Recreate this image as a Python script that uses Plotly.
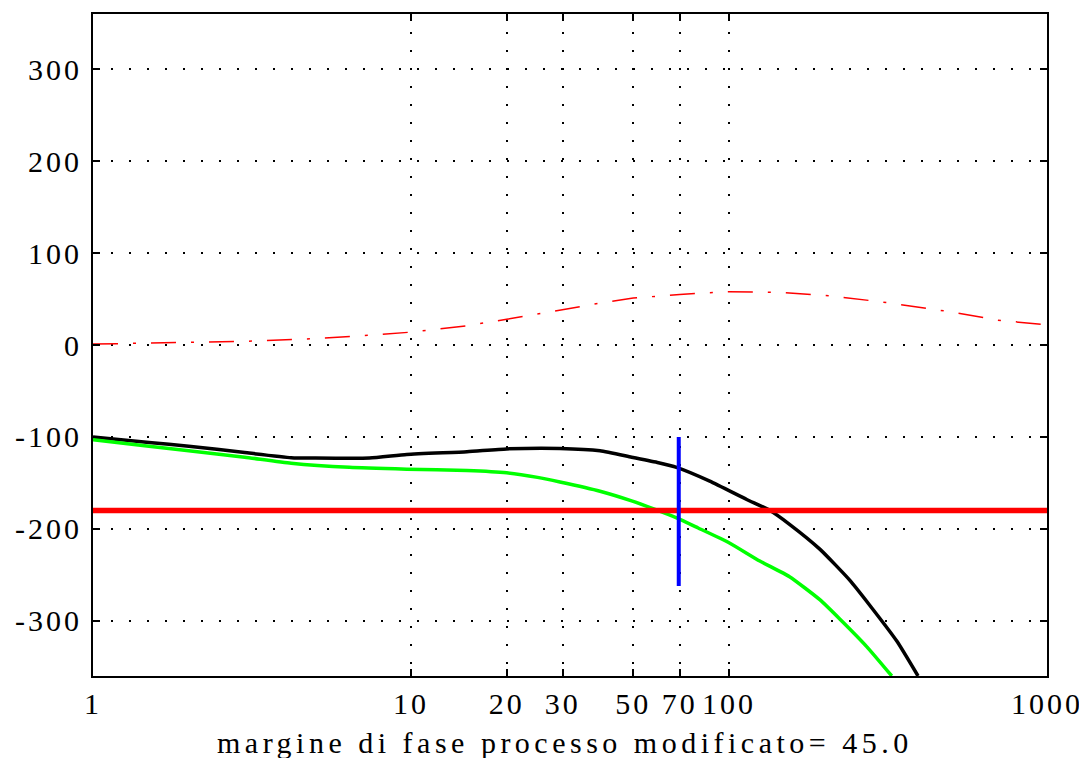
import plotly.graph_objects as go

# ---- data ----
freq_black = [1, 1.5, 2, 3, 4.2, 5, 7.4, 9.7, 15, 20, 29.4, 39.3, 49.4, 60, 68.4, 87, 113.7, 134.6, 155, 193, 240, 277, 337, 393]
phase_black = [-100, -106, -110, -117, -122.5, -123, -123, -119, -116, -113, -112.5, -115, -122, -128, -133, -148, -168, -180, -195, -222, -256, -283, -322, -360]

freq_green = [1, 1.5, 2, 3, 4.2, 6.4, 9.7, 15, 20, 25, 29.4, 39.3, 49.4, 57.7, 68.4, 80, 100, 125, 155, 193, 223, 271, 325]
phase_green = [-103, -110, -115, -122, -128.5, -133, -135, -136.5, -139, -144, -149, -159, -169.5, -178, -188, -199, -215, -235, -252, -277, -298, -328, -360]

freq_lead = [1, 2, 3, 5, 7, 10, 15, 20, 30, 40, 50, 70, 100, 150, 200, 300, 500, 700, 1000]
phase_lead = [1, 3, 4, 7, 10, 14, 21, 28, 39, 46, 51, 55, 58, 57, 54, 47, 36, 27, 22]

limit_x = [1, 1000]
limit_y = [-180, -180]

margin_x = [69.5, 69.5]
margin_y = [-100, -262]

x_tickvals = [1, 10, 20, 30, 50, 70, 100, 1000]
x_ticktext = ["1", "10", "20", "30", "50", "70", "100", "1000"]
y_tickvals = [-300, -200, -100, 0, 100, 200, 300]
y_ticktext = ["-300", "-200", "-100", "0", "100", "200", "300"]

title_text = "margine di fase processo modificato= 45.0"

SP = '<span style="letter-spacing:3px">{}</span>'
SPT = '<span style="letter-spacing:4.5px">{}</span>'

fig = go.Figure()
fig.add_trace(go.Scatter(x=freq_lead, y=phase_lead, mode="lines",
                         line=dict(color="#ff0000", width=1.5, dash="25px,15px,3px,15px"),
                         showlegend=False))
fig.add_trace(go.Scatter(x=freq_black, y=phase_black, mode="lines",
                         line=dict(color="#000000", width=3.5, shape="spline", smoothing=0.5),
                         showlegend=False))
fig.add_trace(go.Scatter(x=freq_green, y=phase_green, mode="lines",
                         line=dict(color="#00ff00", width=3.5, shape="spline", smoothing=0.5),
                         showlegend=False))
fig.add_trace(go.Scatter(x=limit_x, y=limit_y, mode="lines",
                         line=dict(color="#ff0000", width=5.5), showlegend=False))
fig.add_trace(go.Scatter(x=margin_x, y=margin_y, mode="lines",
                         line=dict(color="#0000ff", width=4), showlegend=False))

font = dict(family="Liberation Serif, Times New Roman, serif", size=30, color="black")

# the page body adds an 8px offset, so the figure is slightly smaller than the window
fig.update_layout(
    width=1079, height=750,
    margin=dict(l=85, r=40, t=6, b=82),
    paper_bgcolor="white", plot_bgcolor="white",
    font=font,
    xaxis=dict(
        type="log", range=[0, 3], automargin=False,
        tickvals=x_tickvals, ticktext=[SP.format(t) for t in x_ticktext],
        showgrid=True, gridcolor="black", gridwidth=1.6, griddash="2px,16px",
        showline=True, linecolor="black", linewidth=2, mirror="allticks",
        ticks="inside", ticklen=7, tickcolor="black", tickwidth=1.5,
        zeroline=False,
        tickfont=font,
    ),
    yaxis=dict(
        range=[-360, 360], automargin=False,
        tickvals=y_tickvals, ticktext=[SP.format(t) for t in y_ticktext],
        showgrid=True, gridcolor="black", gridwidth=1.6, griddash="2px,16px",
        showline=True, linecolor="black", linewidth=2, mirror="allticks",
        ticks="inside", ticklen=7, tickcolor="black", tickwidth=1.5,
        zeroline=False, ticklabelstandoff=3,
        tickfont=font,
    ),
    annotations=[dict(
        text=SPT.format(title_text), xref="paper", yref="paper",
        x=0.495, y=-0.101, xanchor="center", yanchor="middle",
        showarrow=False, font=font,
    )],
)

fig.write_html("out.html")
